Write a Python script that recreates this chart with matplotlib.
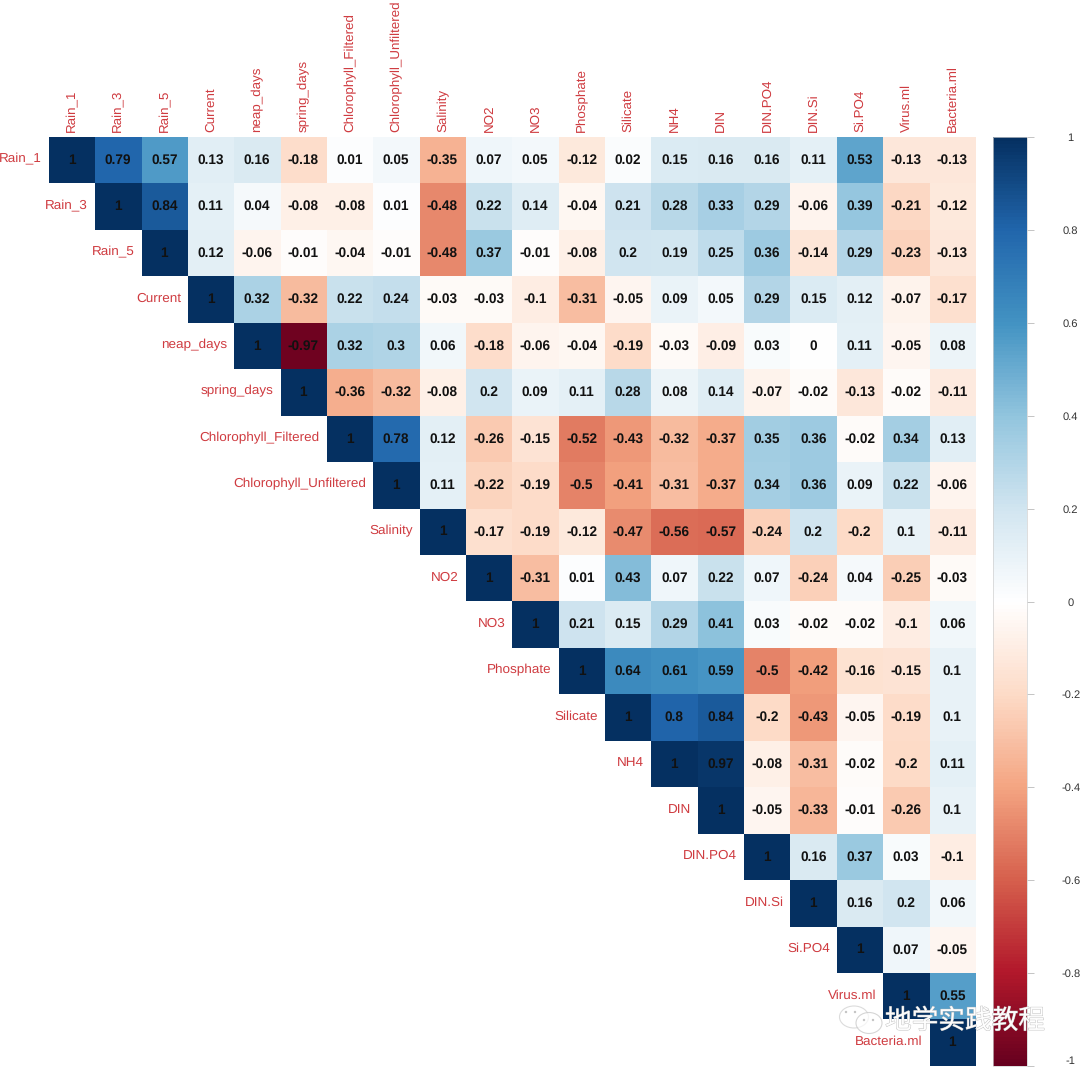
#!/usr/bin/env python3
"""Upper triangle correlation heatmap in the corrplot style."""

import numpy as np
import matplotlib
matplotlib.use('Agg')
import matplotlib.pyplot as plt
import matplotlib.patheffects as pe
from matplotlib.colors import LinearSegmentedColormap
from matplotlib.patches import Ellipse, Circle

plt.rcParams['font.family'] = ['Liberation Sans', 'DejaVu Sans']
plt.rcParams['text.hinting'] = 'no_hinting'

names = ['Rain_1', 'Rain_3', 'Rain_5', 'Current', 'neap_days', 'spring_days',
         'Chlorophyll_Filtered', 'Chlorophyll_Unfiltered', 'Salinity', 'NO2',
         'NO3', 'Phosphate', 'Silicate', 'NH4', 'DIN', 'DIN.PO4', 'DIN.Si',
         'Si.PO4', 'Virus.ml', 'Bacteria.ml']

# Upper triangle, each row starts at the diagonal
rain_1 = [1, 0.79, 0.57, 0.13, 0.16, -0.18, 0.01, 0.05, -0.35, 0.07, 0.05, -0.12, 0.02, 0.15, 0.16, 0.16, 0.11, 0.53, -0.13, -0.13]
rain_3 = [1, 0.84, 0.11, 0.04, -0.08, -0.08, 0.01, -0.48, 0.22, 0.14, -0.04, 0.21, 0.28, 0.33, 0.29, -0.06, 0.39, -0.21, -0.12]
rain_5 = [1, 0.12, -0.06, -0.01, -0.04, -0.01, -0.48, 0.37, -0.01, -0.08, 0.2, 0.19, 0.25, 0.36, -0.14, 0.29, -0.23, -0.13]
current = [1, 0.32, -0.32, 0.22, 0.24, -0.03, -0.03, -0.1, -0.31, -0.05, 0.09, 0.05, 0.29, 0.15, 0.12, -0.07, -0.17]
neap_days = [1, -0.97, 0.32, 0.3, 0.06, -0.18, -0.06, -0.04, -0.19, -0.03, -0.09, 0.03, 0, 0.11, -0.05, 0.08]
spring_days = [1, -0.36, -0.32, -0.08, 0.2, 0.09, 0.11, 0.28, 0.08, 0.14, -0.07, -0.02, -0.13, -0.02, -0.11]
chl_filtered = [1, 0.78, 0.12, -0.26, -0.15, -0.52, -0.43, -0.32, -0.37, 0.35, 0.36, -0.02, 0.34, 0.13]
chl_unfiltered = [1, 0.11, -0.22, -0.19, -0.5, -0.41, -0.31, -0.37, 0.34, 0.36, 0.09, 0.22, -0.06]
salinity = [1, -0.17, -0.19, -0.12, -0.47, -0.56, -0.57, -0.24, 0.2, -0.2, 0.1, -0.11]
no2 = [1, -0.31, 0.01, 0.43, 0.07, 0.22, 0.07, -0.24, 0.04, -0.25, -0.03]
no3 = [1, 0.21, 0.15, 0.29, 0.41, 0.03, -0.02, -0.02, -0.1, 0.06]
phosphate = [1, 0.64, 0.61, 0.59, -0.5, -0.42, -0.16, -0.15, 0.1]
silicate = [1, 0.8, 0.84, -0.2, -0.43, -0.05, -0.19, 0.1]
nh4 = [1, 0.97, -0.08, -0.31, -0.02, -0.2, 0.11]
din = [1, -0.05, -0.33, -0.01, -0.26, 0.1]
din_po4 = [1, 0.16, 0.37, 0.03, -0.1]
din_si = [1, 0.16, 0.2, 0.06]
si_po4 = [1, 0.07, -0.05]
virus_ml = [1, 0.55]
bacteria_ml = [1]

rows = [rain_1, rain_3, rain_5, current, neap_days, spring_days, chl_filtered,
        chl_unfiltered, salinity, no2, no3, phosphate, silicate, nh4, din,
        din_po4, din_si, si_po4, virus_ml, bacteria_ml]

bar_ticks = [-1, -0.8, -0.6, -0.4, -0.2, 0, 0.2, 0.4, 0.6, 0.8, 1]

# corrplot default palette
palette = ['#67001F', '#B2182B', '#D6604D', '#F4A582', '#FDDBC7', '#FFFFFF',
           '#D1E5F0', '#92C5DE', '#4393C3', '#2166AC', '#053061']
cmap = LinearSegmentedColormap.from_list('corr', palette, N=256)
LABEL_RED = '#cf3b40'

W, H = 1080, 1069
fig = plt.figure(figsize=(W / 100, H / 100), dpi=100)


def px_axes(x0, y0, x1, y1, **kw):
    """Axes from pixel box, y measured from the top."""
    return fig.add_axes([x0 / W, 1 - y1 / H, (x1 - x0) / W, (y1 - y0) / H], **kw)


n = len(names)
matrix = np.full((n, n), np.nan)
for i, row in enumerate(rows):
    matrix[i, i:] = row

ax = px_axes(48.5, 137, 975.5, 1066)
im = ax.imshow(np.ma.masked_invalid(matrix), cmap=cmap, vmin=-1, vmax=1,
               aspect='auto', interpolation='nearest')
ax.axis('off')

for i, row in enumerate(rows):
    for j, val in enumerate(row):
        ax.text(i + j, i, f'{val:g}', ha='center', va='center', fontsize=9.8,
                fontweight='bold', color='#111111')
    ax.annotate(names[i], xy=(i - 0.5, i), xytext=(-4.8, 0.8),
                textcoords='offset points', ha='right', va='center',
                fontsize=9.7, color=LABEL_RED, annotation_clip=False)
    ax.annotate(names[i], xy=(i, -0.5), xytext=(0.3, 3.6),
                textcoords='offset points', ha='center', va='bottom',
                rotation=90, fontsize=9.6, color=LABEL_RED, annotation_clip=False)

# Colour bar
cax = px_axes(993, 137, 1027, 1066)
cbar = fig.colorbar(im, cax=cax, ticks=bar_ticks)
cbar.outline.set_edgecolor('#d0d0d0')
cbar.outline.set_linewidth(0.5)
cbar.ax.set_yticklabels([f'{t:g}' for t in bar_ticks], ha='center', fontsize=8,
                        color='#333333')
cbar.ax.tick_params(length=5, width=0.7, color='#c4c4c4', pad=26.5)
# keep the -1 label inside the picture
cbar.ax.get_yticklabels()[0].set_va('bottom')

# Watermark
overlay = px_axes(0, 0, W, H)
overlay.set_xlim(0, W)
overlay.set_ylim(H, 0)
overlay.axis('off')
overlay.patch.set_alpha(0)
halo = [pe.withStroke(linewidth=0.6, foreground='#b4b4b4')]
for patch in (Ellipse((854, 1017), 29, 22, fc='white', ec='#c4c4c4', lw=0.8, alpha=0.6),
              Ellipse((869, 1023), 26, 21, fc='white', ec='#c4c4c4', lw=0.8, alpha=0.7)):
    overlay.add_patch(patch)
for cx, cy in [(846, 1012), (855, 1012), (864, 1020), (873, 1020)]:
    overlay.add_patch(Circle((cx, cy), 1.2, fc='#c4c4c4', ec='none'))
overlay.text(885, 1021, '地学实践教程', ha='left', va='center', fontsize=19.2,
             color='white', alpha=0.9, family=['Noto Sans CJK SC', 'DejaVu Sans'],
             path_effects=halo)

fig.savefig('out.png', dpi=100)
